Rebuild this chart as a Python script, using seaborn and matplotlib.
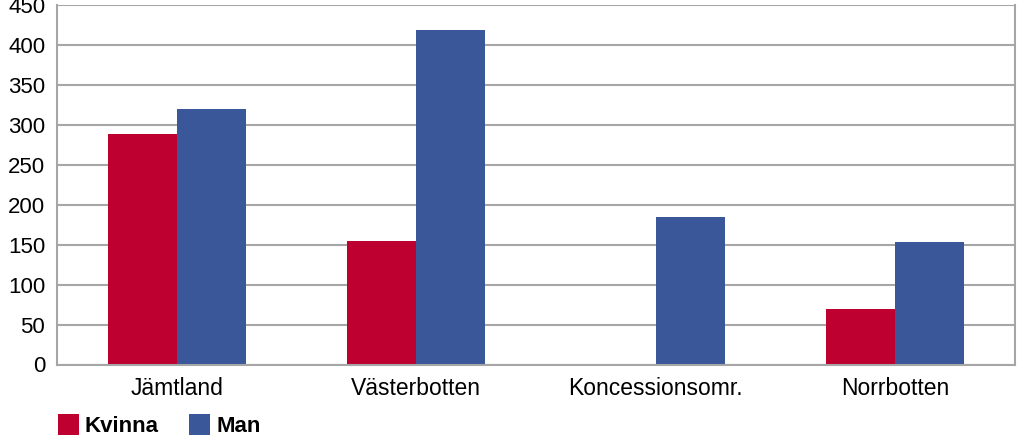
import matplotlib
matplotlib.use("Agg")
import matplotlib.pyplot as plt
import seaborn as sns
import pandas as pd
from matplotlib.patches import Patch

categories = ["Jämtland", "Västerbotten", "Koncessionsomr.", "Norrbotten"]
kvinna = [288, 155, 0, 69]
man = [320, 419, 185, 153]
series_names = ["Kvinna", "Man"]
yticks = [0, 50, 100, 150, 200, 250, 300, 350, 400, 450]

df = pd.DataFrame({
    "Område": categories * 2,
    "Antal": kvinna + man,
    "Kön": [series_names[0]] * len(categories) + [series_names[1]] * len(categories),
})

sns.set_style("white")
plt.rcParams["font.family"] = ["Liberation Sans", "DejaVu Sans"]
plt.rcParams["text.color"] = "black"
plt.rcParams["xtick.color"] = "black"
plt.rcParams["ytick.color"] = "black"

colors = {"Kvinna": "#BE0030", "Man": "#3A5899"}
grid_c = "#A6A6A6"

fig = plt.figure(figsize=(10.25, 4.46), dpi=100)
ax = fig.add_axes([57 / 1025, 1 - 364.5 / 446, (1015 - 57) / 1025, (364.5 - 5) / 446])

sns.barplot(data=df, x="Område", y="Antal", hue="Kön", palette=colors,
            width=0.576, ax=ax, legend=False, saturation=1, linewidth=0)

ax.set_ylim(0, 450)
ax.set_xlim(-0.5, len(categories) - 0.5)
ax.set_yticks(yticks)
ax.set_yticklabels([str(v) for v in yticks], fontsize=16)
ax.set_xlabel("")
ax.set_ylabel("")
ax.yaxis.grid(True, color=grid_c, linewidth=1.5)
ax.set_axisbelow(True)

# x ticks at category boundaries, labels centered
ax.set_xticks([i - 0.5 for i in range(len(categories) + 1)])
ax.set_xticklabels([])
ax.set_xticks(range(len(categories)), minor=True)
ax.set_xticklabels(categories, minor=True, fontsize=16.5)
ax.tick_params(axis="x", which="major", length=8, width=1.2, color=grid_c, direction="out")
ax.tick_params(axis="x", which="minor", length=0, pad=9)
ax.tick_params(axis="y", length=6.5, width=1.2, color=grid_c, direction="out", pad=2)

for s in ["left", "bottom", "right"]:
    ax.spines[s].set_visible(True)
    ax.spines[s].set_color(grid_c)
    ax.spines[s].set_linewidth(1.5)
ax.spines["top"].set_visible(False)

handles = [Patch(facecolor=colors[n], edgecolor="none", label=n) for n in series_names]
fig.legend(handles=handles, loc="lower left", bbox_to_anchor=(49 / 1025, 0 / 446),
           ncol=2, frameon=False, prop={"weight": "bold", "size": 16},
           handlelength=0.95, handleheight=1.1, handletextpad=0.27, columnspacing=1.35,
           borderaxespad=0)

fig.savefig("out.png", dpi=100)
